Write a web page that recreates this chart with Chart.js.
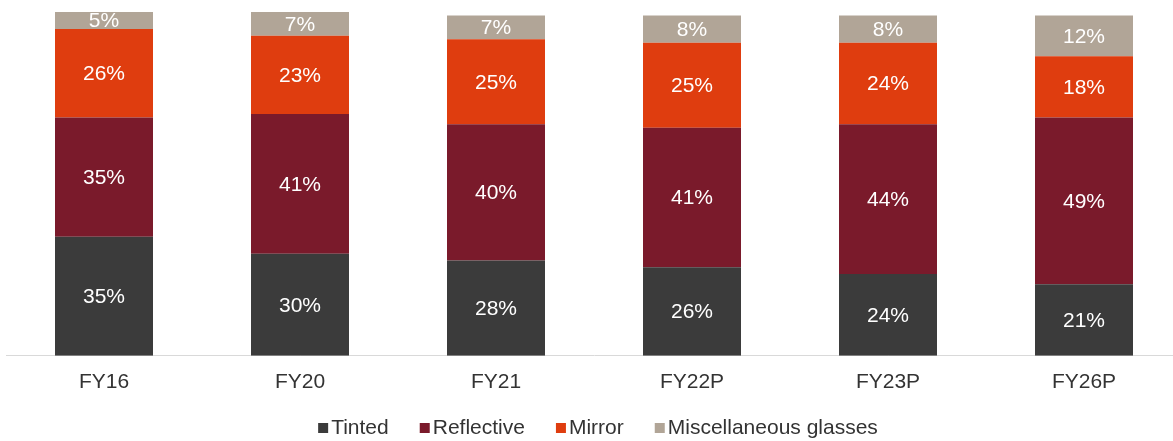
<!DOCTYPE html>
<html>
<head>
<meta charset="utf-8">
<script src="https://cdn.jsdelivr.net/npm/chart.js@4/dist/chart.umd.min.js"></script>
<style>
  html, body { margin: 0; padding: 0; background: #fff; overflow: hidden; }
  #wrap { width: 1182px; height: 441px; }
</style>
</head>
<body>
<div id="wrap"><canvas id="chart"></canvas></div>
<script>
const years = ["FY16", "FY20", "FY21", "FY22P", "FY23P", "FY26P"];
const tinted = [35, 30, 28, 26, 24, 21];
const reflective = [35, 41, 40, 41, 44, 49];
const mirror = [26, 23, 25, 25, 24, 18];
const misc = [5, 7, 7, 8, 8, 12];

const FONT = "'Liberation Sans', Arial, sans-serif";

// labels inside each segment
const segmentLabels = {
    id: "segmentLabels",
    afterDatasetsDraw(chart) {
        const ctx = chart.ctx;
        ctx.save();
        ctx.font = "21px " + FONT;
        ctx.fillStyle = "#ffffff";
        ctx.textAlign = "center";
        ctx.textBaseline = "middle";
        chart.data.datasets.forEach((ds, i) => {
            chart.getDatasetMeta(i).data.forEach((bar, j) => {
                const mid = (bar.y + bar.base) / 2;
                ctx.fillText(ds.data[j] + "%", bar.x, mid + 1);
            });
        });
        ctx.restore();
    }
};

// simple legend under the axis (small boxes close to text)
const bottomLegend = {
    id: "bottomLegend",
    afterDraw(chart) {
        const ctx = chart.ctx;
        const gap = 31, box = 10, boxGap = 3, y = 427;
        ctx.save();
        ctx.font = "21px " + FONT;
        ctx.textBaseline = "middle";
        const items = chart.data.datasets.map(ds => ({
            text: ds.label, color: ds.backgroundColor,
            w: box + boxGap + ctx.measureText(ds.label).width
        }));
        const total = items.reduce((a, it) => a + it.w, 0) + gap * (items.length - 1);
        let x = 598 - total / 2;
        items.forEach(it => {
            ctx.fillStyle = it.color;
            ctx.fillRect(x, y - box / 2 + 1, box, box);
            ctx.fillStyle = "#333";
            ctx.fillText(it.text, x + box + boxGap, y + 1);
            x += it.w + gap;
        });
        ctx.restore();
    }
};

new Chart(document.getElementById("chart"), {
    type: "bar",
    data: {
        labels: years,
        datasets: [
            { label: "Tinted", data: tinted, backgroundColor: "#3b3b3b" },
            { label: "Reflective", data: reflective, backgroundColor: "#7a1a2b" },
            { label: "Mirror", data: mirror, backgroundColor: "#df3d0f" },
            { label: "Miscellaneous glasses", data: misc, backgroundColor: "#b1a597" }
        ]
    },
    options: {
        responsive: true,
        maintainAspectRatio: false,
        animation: false,
        layout: { padding: { top: 12, left: 6, right: 0, bottom: 32 } },
        datasets: { bar: { barPercentage: 0.5, categoryPercentage: 1, borderWidth: 0 } },
        scales: {
            x: {
                stacked: true,
                grid: { display: false, drawTicks: false },
                border: { color: "#d9d9d9", width: 1 },
                ticks: { color: "#333", font: { family: FONT, size: 21 }, padding: 14 }
            },
            y: { stacked: true, display: false, min: 0, max: 101 }
        },
        plugins: {
            tooltip: { enabled: false },
            legend: { display: false }
        }
    },
    plugins: [segmentLabels, bottomLegend]
});
</script>
</body>
</html>
